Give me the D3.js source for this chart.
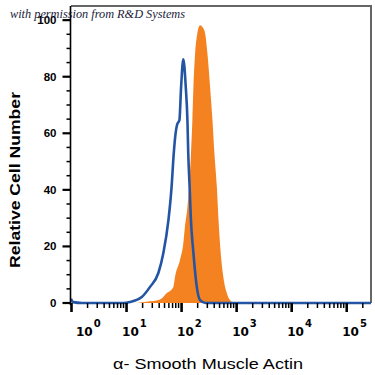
<!DOCTYPE html>
<html><head><meta charset="utf-8">
<script src="https://cdn.jsdelivr.net/npm/d3@7"></script>
<style>body{margin:0;background:#fff}svg{display:block}</style>
</head><body>
<script>
// Data: x in log10(fluorescence), y in relative cell number (%)
const stainedLogX = [1.2,1.376,1.618,1.74,1.86,1.89,1.98,2.04,2.07,2.11,2.145,2.18,2.205,2.224,2.255,2.29,2.345,2.4,2.436,2.478,2.527,2.57,2.605,2.65,2.68,2.72,2.77,2.83,2.89,2.98];
const stainedY    = [0,0.4,1.2,3.5,5.7,9.3,15.2,21,27,33,41,53,64.7,76.4,88.3,94.7,98.2,97.2,95.4,88.3,76.3,64.7,53,41,29.3,17.7,8.8,3.5,1,0];
const controlLogX = [0,0.04,0.2,0.945,1.07,1.285,1.436,1.587,1.678,1.77,1.827,1.867,1.9,1.927,1.97,2.0,2.04,2.085,2.115,2.13,2.155,2.176,2.224,2.285,2.345,2.44,5.45];
const controlY    = [1.5,0.3,0,0,0.35,2.1,5.7,10.6,17.7,29.3,41,53,60,63,64.7,76.3,86.2,76.3,64.7,53,41,30.4,17.7,5.7,1,0,0];
const yTicks = [0,20,40,60,80,100];
const xDecades = [0,1,2,3,4,5];
const xTitle = "α- Smooth Muscle Actin";
const yTitle = "Relative Cell Number";
const credit = "with permission from R&D Systems";

const W = 375, H = 375;
const svg = d3.select("body").append("svg").attr("width", W).attr("height", H);
const x = d3.scaleLog().domain([1, Math.pow(10, 5.45)]).range([71, 371]);
const y = d3.scaleLinear().domain([0, 105]).range([303, 6]);

// frame (top/right)
svg.append("path").attr("d", `M${x.range()[0]},${y(105)}H${x.range()[1]}V${y(0)}`)
  .attr("fill","none").attr("stroke","#666").attr("stroke-width",2);

// stained fill
const stained = stainedLogX.map((v,i)=>[Math.pow(10,v), stainedY[i]]);
svg.append("path").datum(stained)
  .attr("d", d3.area().x(d=>x(d[0])).y0(y(0)).y1(d=>y(d[1])).curve(d3.curveMonotoneX))
  .attr("fill","#f58220");

// control line
const control = controlLogX.map((v,i)=>[Math.pow(10,v), controlY[i]]);
svg.append("path").datum(control)
  .attr("d", d3.line().x(d=>x(d[0])).y(d=>y(d[1])).curve(d3.curveMonotoneX))
  .attr("fill","none").attr("stroke","#2455a4").attr("stroke-width",2.6).attr("stroke-linejoin","round");

// y axis
const yAxis = svg.append("g").attr("transform","translate(70.5,0)");
yAxis.append("line").attr("y1",y(105)).attr("y2",y(0)+2).attr("stroke","#000").attr("stroke-width",1.6);
const yMinor = d3.range(0,101,5).filter(v=>v%20!==0);
yAxis.selectAll(".ymin").data(yMinor).enter().append("line")
  .attr("x1",-4).attr("x2",0).attr("y1",d=>y(d)).attr("y2",d=>y(d)).attr("stroke","#000").attr("stroke-width",1.5);
yAxis.selectAll(".ymaj").data(yTicks).enter().append("line")
  .attr("x1",-8).attr("x2",0).attr("y1",d=>y(d)).attr("y2",d=>y(d)).attr("stroke","#000").attr("stroke-width",2.2);
yAxis.selectAll(".ylab").data(yTicks).enter().append("text")
  .attr("x",-14).attr("y",d=>y(d)+4).attr("text-anchor","end")
  .attr("font-family","Liberation Sans, Arial, sans-serif").attr("font-weight","bold").attr("font-size",11.5)
  .text(d=>d);

// x axis ticks
const xAxis = svg.append("g");
const minors = [];
xDecades.forEach(d=>{ for(let k=2;k<=9;k++){ const v=k*Math.pow(10,d); if(v<=x.domain()[1]) minors.push(v);} });
xAxis.selectAll(".xmin").data(minors).enter().append("line")
  .attr("x1",d=>x(d)).attr("x2",d=>x(d)).attr("y1",y(0)).attr("y2",y(0)+5)
  .attr("stroke","#000").attr("stroke-width",1.5);
xAxis.selectAll(".xmaj").data(xDecades).enter().append("line")
  .attr("x1",d=>x(Math.pow(10,d))+0.5).attr("x2",d=>x(Math.pow(10,d))+0.5).attr("y1",y(0)).attr("y2",y(0)+9)
  .attr("stroke","#000").attr("stroke-width",2.6);
const xl = xAxis.selectAll(".xlab").data(xDecades).enter().append("text")
  .attr("x",d=>Math.max(x(Math.pow(10,d))-4, 76)).attr("y",336)
  .attr("font-family","DejaVu Sans, sans-serif").attr("font-weight","bold").attr("font-size",12);
xl.append("tspan").text("10");
xl.append("tspan").attr("dy",-9).attr("dx",1).attr("font-size",10).text(d=>d);

// titles
svg.append("text").attr("x",208).attr("y",369).attr("text-anchor","middle")
  .attr("font-family","Liberation Sans, Arial, sans-serif").attr("font-size",15)
  .attr("textLength",190).attr("lengthAdjust","spacingAndGlyphs").text(xTitle);
svg.append("text").attr("transform","translate(20,180) rotate(-90)").attr("text-anchor","middle")
  .attr("font-family","Liberation Sans, Arial, sans-serif").attr("font-weight","bold").attr("font-size",15)
  .attr("textLength",176).attr("lengthAdjust","spacingAndGlyphs").text(yTitle);

svg.append("text").attr("x",10).attr("y",18)
  .attr("font-family","Liberation Serif, serif").attr("font-style","italic").attr("font-size",12)
  .attr("fill","#1c1c3c").attr("textLength",175).attr("lengthAdjust","spacingAndGlyphs").text(credit);
</script>
</body></html>
